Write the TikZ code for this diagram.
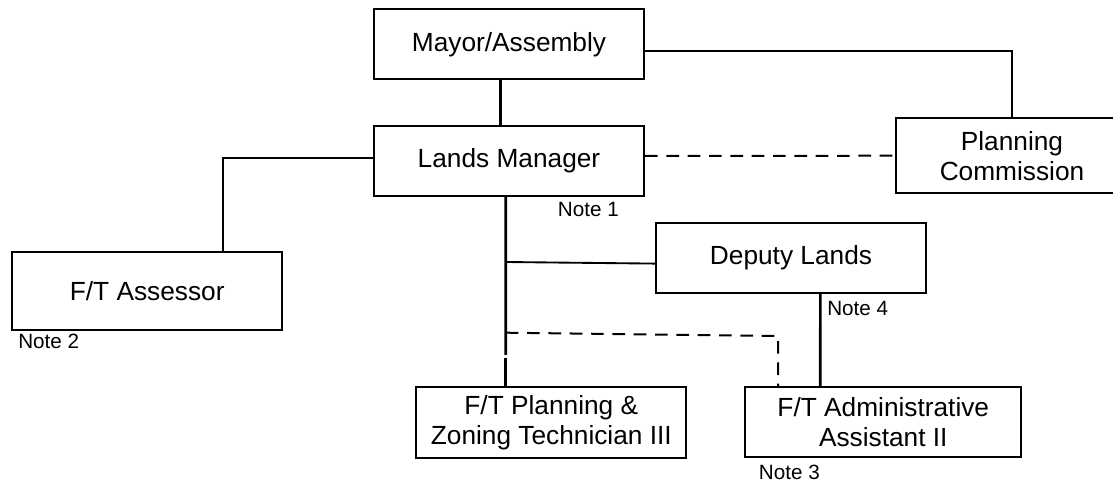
\documentclass[tikz,border=0pt]{standalone}
\usepackage{fontspec}
\setmainfont{Liberation Sans}
\usetikzlibrary{positioning}

\begin{document}
\begin{tikzpicture}[x=0.75pt,y=-0.75pt,
  box/.style={draw,line width=1.5pt,align=center,inner sep=2pt,minimum width=202.5pt,minimum height=52.5pt,font=\fontsize{19.7}{22.5}\selectfont},
  note/.style={anchor=west,inner sep=0pt,font=\fontsize{15.5}{18}\selectfont},
  link/.style={line width=1.4pt},
  trunk/.style={line width=2pt},
  tie/.style={line width=1.5pt,dash pattern=on 9.5pt off 6.5pt}]
\clip (0,0) rectangle (1113,484);
\node[box] (mayor) at (509,44.3) {Mayor/Assembly};
\node[box] (lands) at (509,161) {Lands Manager};
\node[box,minimum width=174pt,minimum height=56.5pt] (planning) at (1012,155.7) {Planning\\Commission};
\node[box,minimum height=58.3pt] (assessor) at (147.2,290.9) {F/T Assessor};
\node[box] (deputy) at (791,257.6) {Deputy Lands};
\node[box,minimum height=53pt] (zoning) at (551.3,422.7) {F/T Planning \&\\Zoning Technician III};
\node[box,minimum width=207pt,minimum height=52.3pt] (admin) at (883.3,422.2) {F/T Administrative\\Assistant II};
% notes
\node[note] (note1) at (557.7,209) {Note 1};
\node[note] (note2) at (18,341) {Note 2};
\node[note] (note3) at (758.7,472) {Note 3};
\node[note] (note4) at (827,308.7) {Note 4};
% lines
\coordinate (j1) at (505.7,262);
\coordinate (j2) at (505.7,332.7);
\coordinate (g1) at (505.7,355);
\coordinate (g2) at (505.7,358);
\coordinate (k) at (778,336);
\draw[trunk] ([xshift=-6.5pt]mayor.south) -- ([xshift=-6.5pt]lands.north);
\draw[link] ([yshift=-4.8pt]mayor.east) -| (planning.north);
\draw[link] ([yshift=2.5pt]lands.west) -| ([xshift=56.9pt]assessor.north);
\draw[tie] ([yshift=3.75pt]lands.east) -- (planning.west);
\draw[trunk] ([xshift=-2.5pt]lands.south) -- (g1);
\draw[trunk] (g2) -- ([xshift=-34.2pt]zoning.north);
\draw[link] (j1) -- ([yshift=-4.5pt]deputy.west);
\draw[tie] (j2) -- (k) -- (k |- admin.north);
\draw[trunk] ([xshift=22pt]deputy.south) -- ([xshift=-47.25pt]admin.north);
\end{tikzpicture}
\end{document}
